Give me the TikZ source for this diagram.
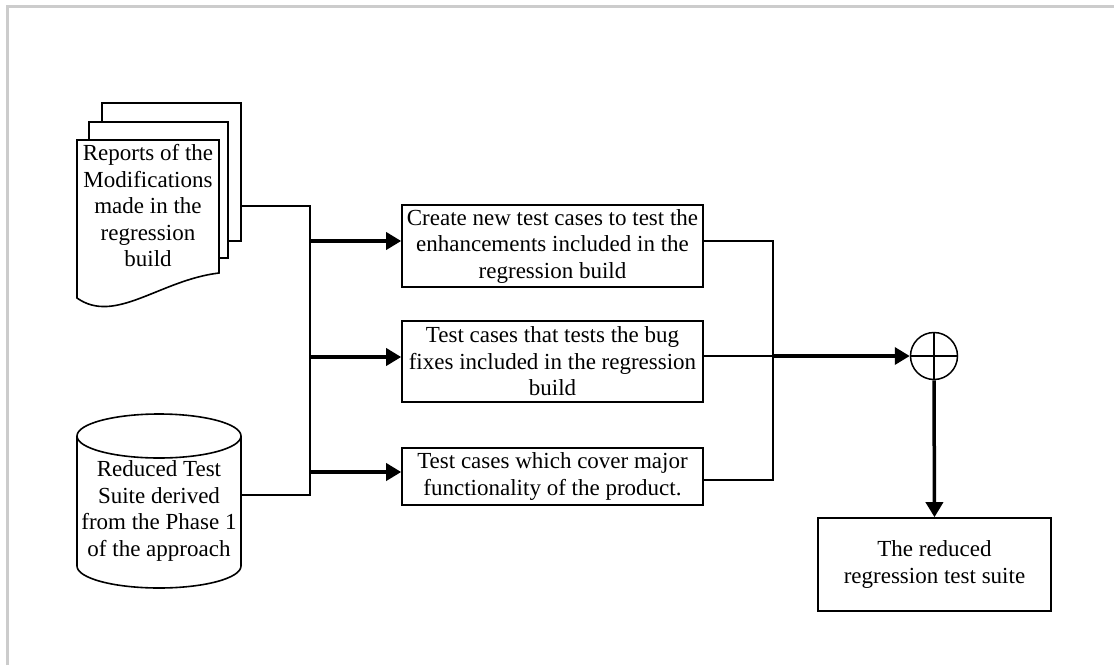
\documentclass[tikz,border=0pt]{standalone}
\usepackage{fontspec}
\setmainfont{Liberation Serif}
\usetikzlibrary{arrows.meta}
\begin{document}
\begin{tikzpicture}[x=1pt, y=-1pt,
    font=\fontsize{23}{26.5}\selectfont,
    page/.style={draw, line width=1.6pt, fill=white},
    stepbox/.style={draw, rectangle, line width=1.6pt, fill=white, align=center, inner sep=2pt, minimum width=301pt},
    wire/.style={line width=1.5pt},
    flow/.style={line width=3.5pt, -{Triangle[length=15pt, width=17pt]}}]
    \useasboundingbox (0,0) rectangle (1114,665);
    % Frame
    \draw[black!20, line width=3pt] (7,665) -- (7,6) -- (1114,6);
    % Reports (stack of pages)
    \draw[page] (102,103) rectangle (241,241);
    \draw[page] (89,122) rectangle (228,258);
    \draw[page] (77,140) -- (219,140) -- (219,273) .. controls (160,280) and (115,325) .. (77,298) -- cycle;
    \node[align=center, inner sep=0pt] (reports) at (148,206) {Reports of the\\Modifications\\made in the\\regression\\build};
    \coordinate (reportsout) at (241,206);
    % Reduced suite (cylinder)
    \draw[page] (77,436) -- (77,566) arc[start angle=180, end angle=0, x radius=82, y radius=22] -- (241,436);
    \draw[page] (159,436) ellipse[x radius=82, y radius=22];
    \node[align=center, inner sep=0pt] (suite) at (159,511) {Reduced Test\\Suite derived\\from the Phase 1\\of the approach};
    \coordinate (suiteout) at (241,495);
    % Test case boxes
    \node[stepbox, minimum height=82pt] (enh) at (552.5,246) {Create new test cases to test the\\enhancements included in the\\regression build};
    \node[stepbox, minimum height=81pt] (bug) at (552.5,361.5) {Test cases that tests the bug\\fixes included in the regression\\build};
    \node[stepbox, minimum height=57pt] (major) at (552.5,476.5) {Test cases which cover major\\functionality of the product.};
    % Sum and result
    \node[draw, circle, line width=1.5pt, minimum size=47pt, inner sep=0pt] (sum) at (934,356) {};
    \draw[wire] (sum.north) -- (sum.south) (sum.west) -- (sum.east);
    \node[stepbox, minimum width=233pt, minimum height=93pt] (result) at (934.5,564.5) {The reduced\\regression test suite};
    % Left bus
    \coordinate (busx) at (310,0);
    \draw[wire] (reportsout) -- (reportsout -| busx) -- (suiteout -| busx) -- (suiteout);
    \draw[flow] ([yshift=5pt]enh.west -| busx) -- ([yshift=5pt]enh.west);
    \draw[flow] ([yshift=4.5pt]bug.west -| busx) -- ([yshift=4.5pt]bug.west);
    \draw[flow] ([yshift=4.5pt]major.west -| busx) -- ([yshift=4.5pt]major.west);
    % Right bus
    \coordinate (joinx) at (773,0);
    \draw[wire] ([yshift=5pt]enh.east) -- ([yshift=5pt]enh.east -| joinx) -- ([yshift=-3.5pt]major.east -| joinx) -- ([yshift=-3.5pt]major.east);
    \draw[wire] (bug.east |- sum) -- (sum -| joinx);
    \draw[flow] (sum -| joinx) -- (sum.west);
    \draw[flow] (sum.south) -- (result.north);
\end{tikzpicture}
\end{document}
